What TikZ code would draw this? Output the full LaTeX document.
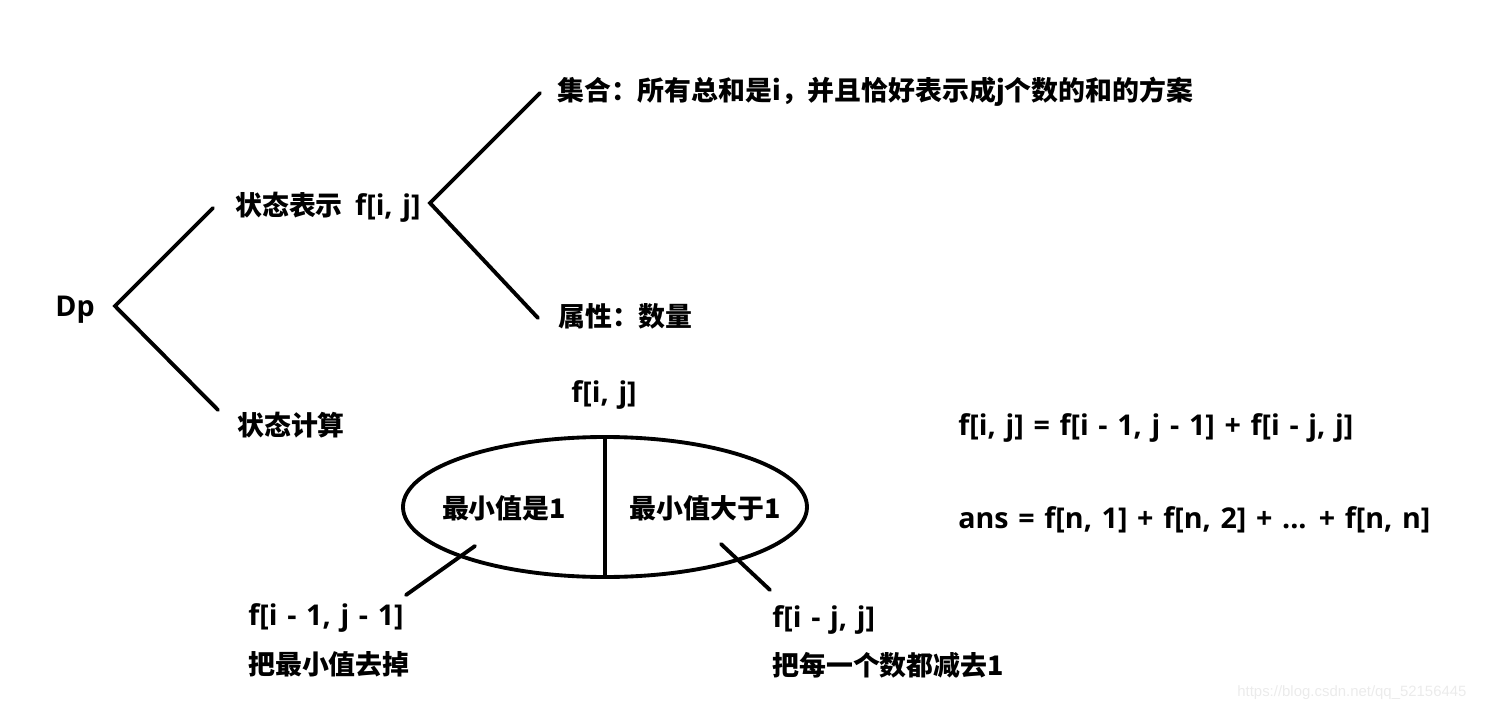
\documentclass[tikz,border=0pt]{standalone}
\usepackage{fontspec}
\setmainfont{Noto Sans CJK SC}
\newfontfamily\latin{Open Sans}[WordSpace=1.3]
\newfontfamily\wmfont{Liberation Sans}
\newcommand{\lat}{\latin\fontsize{16.3pt}{18pt}\selectfont}
\usetikzlibrary{shapes.geometric, positioning, calc}

\begin{document}
\begin{tikzpicture}[
    x=0.02cm, y=-0.02cm,
    every node/.style={inner sep=0pt, font=\fontsize{15.3pt}{18pt}\selectfont\bfseries},
    lbl/.style={anchor=west},
    branch/.style={draw=black, line width=2.2pt, line cap=round, line join=miter},
    split/.style={ellipse, draw=black, line width=2.2pt, minimum width=404*0.02cm, minimum height=140*0.02cm}
  ]
  \useasboundingbox (0,0) rectangle (1489,713);

  % Root and first level
  \node[lbl] (dp) at (55,310) {\lat Dp};
  \node[lbl] (repr) at (235,207) {状态表示\ \ {\lat f[i, j]}};
  \node[lbl] (calc) at (237,425) {状态计算};

  % Second level of the state representation
  \node[lbl] (set) at (557,92) {集合：所有总和是i，并且恰好表示成j个数的和的方案};
  \node[lbl] (attr) at (558,316) {属性：数量};

  % Branch points
  \coordinate (dpv) at (115,306);
  \coordinate (dpu) at (213,208);
  \coordinate (dpd) at (218,410);
  \coordinate (rpv) at (430,203);
  \coordinate (rpu) at (540,93);
  \coordinate (rpd) at (538,318);

  \draw[branch] (dpu) -- (dpv) -- (dpd);
  \draw[branch] (rpu) -- (rpv) -- (rpd);

  % Splitting of the set f[i, j]
  \node (top) at (604,395) {\lat f[i, j]};
  \node[split] (cut) at (605,507) {};
  \draw[branch, line cap=butt] (cut.north) -- (cut.south);
  \node (one) at (504,508) {最小值是1};
  \node (more) at (705,508) {最小值大于1};

  % Sub-cases
  \node[lbl] (lf) at (248,618) {\lat f[i - 1, j - 1]};
  \node[lbl] (lt) at (248,664) {把最小值去掉};
  \node[lbl] (rf) at (772,620) {\lat f[i - j, j]};
  \node[lbl] (rt) at (772,665) {把每一个数都减去1};

  \coordinate (la) at (475,546);
  \coordinate (lb) at (406,595);
  \coordinate (ra) at (721,544);
  \coordinate (rb) at (770,590);
  \draw[branch] (la) -- (lb);
  \draw[branch] (ra) -- (rb);

  % Recurrence and answer
  \node[lbl] (rec) at (958,428) {\lat f[i, j] = f[i - 1, j - 1] + f[i - j, j]};
  \node[lbl] (ans) at (958,520) {\lat ans = f[n, 1] + f[n, 2] + ... + f[n, n]};

  \node[lbl, font=\wmfont\fontsize{8.5pt}{10pt}\selectfont, text=black!8] (wm) at (1237,693) {https://blog.csdn.net/qq\_52156445};
\end{tikzpicture}
\end{document}
